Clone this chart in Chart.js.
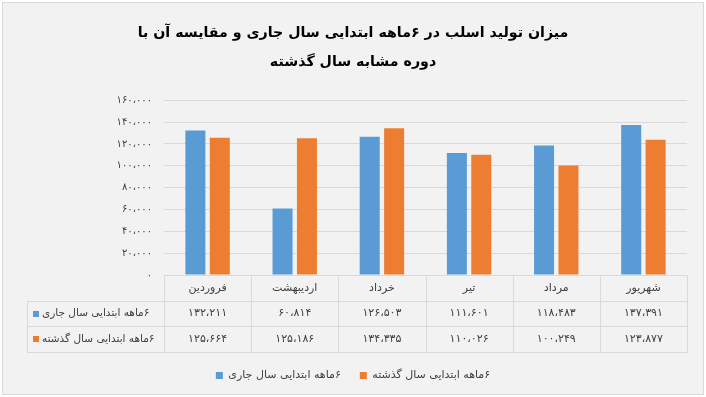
<!DOCTYPE html>
<html>
<head>
<meta charset="utf-8">
<script src="https://cdn.jsdelivr.net/npm/chart.js@4.4.1/dist/chart.umd.min.js"></script>
<style>
html,body{margin:0;padding:0;background:#fff}
#wrap{width:706px;height:397px;position:relative}
</style>
</head>
<body>
<div id="wrap"><canvas id="c"></canvas></div>
<script>
// data
const months=['فروردین','اردیبهشت','خرداد','تیر','مرداد','شهریور'];
const current=[132211,60814,126503,111601,118483,137391];
const previous=[125664,125186,134335,110026,100249,123877];
const seriesNames=['۶ماهه ابتدایی سال جاری','۶ماهه ابتدایی سال گذشته'];
const titleLines=['میزان تولید اسلب در ۶ماهه ابتدایی سال جاری و مقایسه آن با','دوره مشابه سال گذشته'];
const COLS=['#5B9BD5','#ED7D31'];
const RLM='\u200F';

const FA='۰۱۲۳۴۵۶۷۸۹';
const fa=n=>n.toLocaleString('en-US').replace(/\d/g,d=>FA[d]).replace(/,/g,'،');

Chart.defaults.font.family='"DejaVu Sans", sans-serif';
Chart.defaults.color='#404040';

// panel background + border
const bgPlugin={id:'bg',beforeDraw(ch){
  const c=ch.ctx;
  c.save();
  c.fillStyle='#fff';c.fillRect(0,0,ch.width,ch.height);
  c.fillStyle='#F2F2F2';c.strokeStyle='#D9D9D9';c.lineWidth=1;
  c.fillRect(2.5,2.5,701,392);c.strokeRect(2.5,2.5,701,392);
  c.restore();
}};

// data table under the plot (Excel style)
const tablePlugin={id:'dtable',afterDraw(ch){
  const c=ch.ctx,xs=ch.scales.x,a=ch.chartArea;
  const cw=(a.right-a.left)/months.length;
  const top=a.bottom,rows=[top,top+26,top+51,top+77];
  const legL=27;
  c.save();
  c.strokeStyle='#D9D9D9';c.lineWidth=1;
  c.beginPath();
  const L=v=>Math.round(v)+0.5;
  c.moveTo(a.left,L(rows[0]));c.lineTo(a.right,L(rows[0]));
  for(let r=1;r<4;r++){c.moveTo(legL,L(rows[r]));c.lineTo(a.right,L(rows[r]))}
  c.moveTo(L(legL),L(rows[1]));c.lineTo(L(legL),L(rows[3]));
  for(let i=0;i<=months.length;i++){const x=L(a.left+i*cw);c.moveTo(x,L(rows[0]));c.lineTo(x,L(rows[3]))}
  c.stroke();
  c.fillStyle='#404040';c.textBaseline='middle';c.textAlign='center';
  c.font='11px "DejaVu Sans", sans-serif';
  const mid=r=>(rows[r]+rows[r+1])/2;
  months.forEach((m,i)=>{
    const x=xs.getPixelForValue(i);
    c.fillText(m,x,mid(0));
    c.fillText(fa(current[i]),x,mid(1));
    c.fillText(fa(previous[i]),x,mid(2));
  });
  seriesNames.forEach((n,k)=>{
    const y=mid(k+1);
    c.fillStyle=COLS[k];c.fillRect(33,Math.round(y)-3,6,6);
    c.fillStyle='#404040';c.textAlign='left';
    c.font='10.5px "DejaVu Sans", sans-serif';
    c.fillText(RLM+n,42,y);
  });
  c.restore();
}};

new Chart(document.getElementById('c'),{
  type:'bar',
  data:{labels:months,datasets:[
    {label:RLM+seriesNames[0],data:current,backgroundColor:COLS[0]},
    {label:RLM+seriesNames[1],data:previous,backgroundColor:COLS[1]}
  ]},
  options:{
    responsive:true,maintainAspectRatio:false,animation:false,
    layout:{padding:{left:2,right:2,top:2,bottom:6}},
    categoryPercentage:0.56,barPercentage:0.82,
    plugins:{
      tooltip:{enabled:false},
      title:{display:true,text:titleLines,color:'#000',
        font:{size:14.2,weight:'bold',lineHeight:2.05},padding:{top:16.5,bottom:23.5}},
      legend:{position:'bottom',labels:{boxWidth:7,boxHeight:7,font:{size:11},color:'#404040',padding:19}}
    },
    scales:{
      x:{grid:{display:false},border:{display:false},ticks:{display:false},
        afterFit:s=>{s.height=76}},
      y:{min:0,max:160000,
        ticks:{stepSize:20000,padding:12,font:{size:10},color:'#404040',callback:v=>fa(v)},
        grid:{color:'#D9D9D9',drawTicks:false},border:{display:false},
        afterFit:s=>{s.width=162}},
      // empty right gutter, keeps title and legend centred on the panel
      gutter:{position:'right',min:0,max:1,grid:{display:false},border:{display:false},
        ticks:{display:false},afterFit:s=>{s.width=17}}
    }
  },
  plugins:[bgPlugin,tablePlugin]
});
</script>
</body>
</html>
